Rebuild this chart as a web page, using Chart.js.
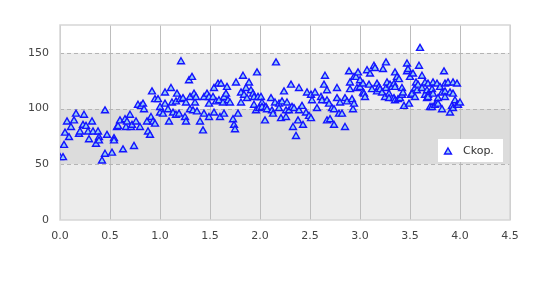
<!DOCTYPE html>
<html>
<head>
<meta charset="utf-8">
<script src="https://cdn.jsdelivr.net/npm/chart.js@4/dist/chart.umd.min.js"></script>
<style>
  html, body { margin: 0; padding: 0; background: #fff; }
  #wrap { width: 540px; height: 300px; }
</style>
</head>
<body>
<div id="wrap"><canvas id="chart" width="540" height="300"></canvas></div>
<script>
const seriesName = "Ckop.";

const xValues = [
  0.00, 0.03, 0.04, 0.05, 0.07, 0.09, 0.11, 0.14, 0.16, 0.19, 0.20, 0.23, 0.24, 0.26, 0.28, 0.29, 0.32, 0.33, 0.36, 0.38,
  0.39, 0.39, 0.42, 0.45, 0.45, 0.47, 0.52, 0.54, 0.54, 0.57, 0.58, 0.60, 0.63, 0.65, 0.66, 0.67, 0.70, 0.71, 0.72, 0.74,
  0.76, 0.78, 0.80, 0.81, 0.83, 0.84, 0.87, 0.88, 0.90, 0.91, 0.92, 0.93, 0.95, 0.95, 0.98, 1.00, 1.00, 1.03, 1.05, 1.05,
  1.08, 1.09, 1.11, 1.12, 1.13, 1.16, 1.16, 1.17, 1.19, 1.20, 1.21, 1.23, 1.25, 1.26, 1.26, 1.29, 1.30, 1.30,
  1.32, 1.33, 1.34, 1.35, 1.36, 1.37, 1.40, 1.43, 1.44, 1.44, 1.47, 1.49, 1.49, 1.49, 1.53, 1.54, 1.54, 1.56, 1.58, 1.59,
  1.60, 1.61, 1.63, 1.64, 1.64, 1.66, 1.67, 1.68, 1.70, 1.73, 1.74, 1.75, 1.76, 1.78, 1.81, 1.81, 1.83, 1.84, 1.86, 1.87,
  1.89, 1.91, 1.93, 1.94, 1.94, 1.96, 1.97, 1.98, 1.99,
  2.01, 2.02, 2.02, 2.05, 2.06, 2.07, 2.11, 2.12, 2.13, 2.15, 2.16, 2.19, 2.19, 2.21, 2.22, 2.24, 2.26, 2.26, 2.27, 2.29,
  2.31, 2.32, 2.33, 2.34, 2.36, 2.38, 2.39, 2.39, 2.42, 2.43, 2.46, 2.47, 2.49, 2.51, 2.51, 2.52, 2.55, 2.57, 2.61, 2.62,
  2.64, 2.65, 2.67, 2.67, 2.67, 2.69, 2.70, 2.72, 2.74, 2.74, 2.77, 2.77, 2.79, 2.80, 2.82, 2.85, 2.85, 2.87, 2.89, 2.90,
  2.90, 2.92, 2.93, 2.94, 2.94, 2.96, 2.97, 2.98,
  3.00, 3.00, 3.03, 3.03, 3.04, 3.05, 3.07, 3.09, 3.10, 3.12, 3.14, 3.15, 3.17, 3.17, 3.19, 3.20, 3.22, 3.23, 3.25, 3.26,
  3.26, 3.27, 3.29, 3.29, 3.30, 3.32, 3.34, 3.34, 3.35, 3.35, 3.35, 3.37, 3.38, 3.39, 3.40, 3.42, 3.42, 3.43, 3.44, 3.47,
  3.47, 3.48, 3.49, 3.50, 3.51, 3.52, 3.53, 3.55, 3.55, 3.56, 3.57, 3.58, 3.59, 3.60, 3.62, 3.62, 3.65, 3.65, 3.67, 3.67,
  3.68, 3.68, 3.68, 3.70, 3.72, 3.72, 3.73, 3.73, 3.75, 3.77, 3.77, 3.78, 3.78, 3.80, 3.82, 3.82, 3.84, 3.85, 3.85, 3.85,
  3.88, 3.90, 3.90, 3.92, 3.93, 3.93, 3.93, 3.95, 3.97, 3.97, 3.98, 4.00
];

const yValues = [
  56, 56, 67, 78, 88, 74, 83, 89, 95, 77, 79, 85, 94, 84, 79, 72, 88, 79, 68, 79,
  74, 71, 53, 98, 59, 76, 60, 73, 71, 83, 84, 89, 63, 90, 83, 88, 94, 83, 85, 66,
  88, 103, 83, 102, 104, 99, 88, 79, 76, 92, 115, 88, 108, 86, 108, 101, 96, 95, 114, 104,
  99, 88, 118, 105, 96, 106, 94, 113, 95, 108, 142, 109, 92, 105, 88, 125, 110, 99,
  128, 98, 113, 105, 110, 97, 88, 80, 110, 95, 113, 110, 104, 92, 110, 118, 96, 106, 122, 107,
  92, 122, 105, 110, 95, 113, 119, 107, 105, 90, 85, 81, 123, 95, 114, 105, 129, 112, 118, 109,
  123, 116, 113, 110, 103, 98, 132, 110, 100,
  110, 105, 101, 89, 101, 99, 109, 98, 95, 105, 141, 104, 100, 91, 106, 115, 98, 92, 105, 98,
  121, 101, 83, 100, 75, 89, 118, 98, 102, 85, 96, 114, 93, 112, 91, 107, 114, 100, 110, 107,
  121, 129, 116, 107, 89, 104, 90, 100, 99, 85, 118, 109, 95, 105, 95, 109, 83, 106, 133, 123,
  117, 108, 99, 128, 104, 128, 118, 132,
  125, 119, 122, 114, 113, 110, 134, 121, 131, 117, 138, 136, 122, 115, 119, 117, 114, 135, 110, 141,
  118, 123, 113, 109, 121, 119, 122, 109, 132, 119, 107, 128, 108, 126, 109, 118, 112, 114, 102, 140,
  133, 135, 104, 128, 112, 113, 131, 118, 110, 123, 116, 121, 138, 154, 129, 118, 123, 112, 116, 109,
  122, 112, 110, 101, 117, 101, 123, 113, 103, 122, 105, 109, 104, 119, 114, 99, 133, 122, 115, 110,
  123, 114, 96, 102, 123, 113, 100, 107, 122, 103, 103, 105
];

const xTicks = [0, 0.5, 1, 1.5, 2, 2.5, 3, 3.5, 4, 4.5];
const yTicks = [0, 50, 100, 150];

const points = xValues.map((x, i) => ({ x: x, y: yValues[i] }));

// shaded bands, dashed horizontal grid and light frame behind the points
const bandsPlugin = {
  id: 'bands',
  beforeDraw: (chart) => {
    const ctx = chart.ctx;
    const area = chart.chartArea;
    const y = chart.scales.y;
    const bands = [
      [0, 50, '#ececec'],
      [50, 100, '#dcdcdc'],
      [100, 150, '#ececec'],
    ];
    ctx.save();
    bands.forEach(b => {
      const top = y.getPixelForValue(b[1]);
      const bottom = y.getPixelForValue(b[0]);
      ctx.fillStyle = b[2];
      ctx.fillRect(area.left, top, area.right - area.left, bottom - top);
    });
    ctx.restore();
  },
  beforeDatasetsDraw: (chart) => {
    const ctx = chart.ctx;
    const a = chart.chartArea;
    const y = chart.scales.y;
    ctx.save();
    ctx.strokeStyle = '#b4b4b4';
    ctx.lineWidth = 1;
    ctx.setLineDash([4, 3]);
    yTicks.filter(v => v > 0).forEach(v => {
      const py = Math.round(y.getPixelForValue(v)) + 0.5;
      ctx.beginPath();
      ctx.moveTo(a.left, py);
      ctx.lineTo(a.right, py);
      ctx.stroke();
    });
    ctx.setLineDash([]);
    ctx.strokeStyle = '#d6d6d6';
    ctx.lineWidth = 1.5;
    ctx.strokeRect(a.left, a.top, a.right - a.left, a.bottom - a.top);
    ctx.restore();
  }
};

// legend box drawn inside the plot area
const legendPlugin = {
  id: 'insideLegend',
  afterDraw: (chart) => {
    const ctx = chart.ctx;
    const a = chart.chartArea;
    const ds = chart.data.datasets[0];
    const bx = a.right - 72, by = a.top + 114, bw = 65, bh = 23;
    ctx.save();
    ctx.fillStyle = '#ffffff';
    ctx.fillRect(bx, by, bw, bh);
    ctx.fillStyle = ds.backgroundColor;
    ctx.strokeStyle = ds.borderColor;
    ctx.lineWidth = ds.borderWidth;
    ctx.beginPath();
    const cx = bx + 10, cy = by + 13, r = ds.pointRadius;
    for (let k = 0; k < 3; k++) {
      const ang = k * 2 * Math.PI / 3;
      const px = cx + Math.sin(ang) * r, py = cy - Math.cos(ang) * r;
      if (k === 0) ctx.moveTo(px, py); else ctx.lineTo(px, py);
    }
    ctx.closePath();
    ctx.fill();
    ctx.stroke();
    ctx.fillStyle = '#333';
    ctx.font = '11px "DejaVu Sans"';
    ctx.textBaseline = 'middle';
    ctx.fillText(ds.label, bx + 25, by + 12);
    ctx.restore();
  }
};

const ctx = document.getElementById('chart').getContext('2d');
const chart = new Chart(ctx, {
  type: 'scatter',
  data: {
    datasets: [{
      label: seriesName,
      data: points,
      pointStyle: 'triangle',
      pointRadius: 4,
      pointHoverRadius: 4,
      borderWidth: 1.4,
      borderColor: '#1414ff',
      backgroundColor: '#94cdf2'
    }]
  },
  plugins: [bandsPlugin, legendPlugin],
  options: {
    responsive: false,
    animation: false,
    layout: { padding: { left: 0, right: 30, top: 25, bottom: 0 } },
    plugins: {
      legend: { display: false },
      tooltip: { enabled: false }
    },
    scales: {
      x: {
        type: 'linear',
        min: 0,
        max: 4.5,
        afterFit: (s) => { s.height = 80; },
        afterBuildTicks: (s) => { s.ticks = xTicks.map(v => ({ value: v })); },
        grid: { color: '#bdbdbd', lineWidth: 1, drawTicks: false },
        border: { display: false },
        ticks: {
          padding: 10,
          color: '#444',
          font: { family: 'DejaVu Sans', size: 11 },
          callback: (v) => Number(v).toFixed(1)
        }
      },
      y: {
        type: 'linear',
        min: 0,
        max: 175,
        afterFit: (s) => { s.width = 60; },
        afterBuildTicks: (s) => { s.ticks = yTicks.map(v => ({ value: v })); },
        grid: { display: false, drawTicks: false },
        border: { display: false },
        ticks: {
          padding: 11,
          color: '#444',
          font: { family: 'DejaVu Sans', size: 11 }
        }
      }
    }
  }
});
</script>
</body>
</html>
